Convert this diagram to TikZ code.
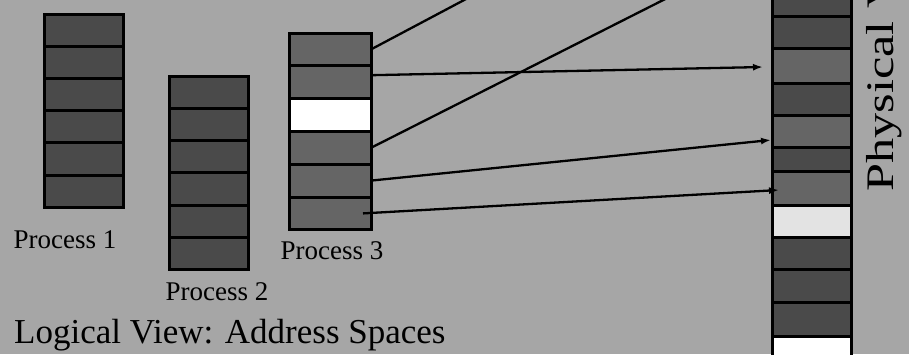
\documentclass[tikz,border=0pt]{standalone}
\usepackage{fontspec}
\setmainfont{Liberation Serif}
\usepackage{graphicx}
\usetikzlibrary{arrows.meta,calc}

\definecolor{bggray}{RGB}{166,166,166}
\definecolor{pagedark}{RGB}{74,74,74}
\definecolor{pagemid}{RGB}{101,101,101}
\definecolor{pagelight}{RGB}{227,227,227}

\tikzset{
    page/.style={draw=black, line width=3bp, anchor=north west, inner sep=0pt, outer sep=0pt},
    map/.style={line width=2.3bp, black},
    maparrow/.style={map, -{Latex[length=10bp,width=7bp]}},
    proc/.style={anchor=base, inner sep=0pt, font=\fontsize{27bp}{27bp}\selectfont}
}

\begin{document}
\begin{tikzpicture}[x=1bp, y=-1bp]
            \useasboundingbox (0,0) rectangle (909,354);
            \clip (0,0) rectangle (909,354);
            \fill[bggray] (0,0) rectangle (909,354);

            %Process 1
            \foreach \i in {0,...,5}
                \node[page, fill=pagedark, minimum width=79bp, minimum height=32.2bp] (pa\i) at (44,{14+32.2*\i}) {};
            \node[proc] (lp1) at (65,248) {Process 1};

            %Process 2
            \foreach \i in {0,...,5}
                \node[page, fill=pagedark, minimum width=79bp, minimum height=32.3bp] (pb\i) at (169,{76+32.3*\i}) {};
            \node[proc] (lp2) at (217,300) {Process 2};

            %Process 3, one page not mapped
            \foreach \i/\col in {0/pagemid,1/pagemid,2/white,3/pagemid,4/pagemid,5/pagemid}
                \node[page, fill=\col, minimum width=82bp, minimum height=32.8bp] (pc\i) at (289,{33+32.8*\i}) {};
            \node[proc] (lp3) at (332,259) {Process 3};

            \node[anchor=base west, inner sep=0pt, font=\fontsize{35bp}{35bp}\selectfont] (llog) at (14,343) {Logical View: Address Spaces};

            %physical frames
            \foreach \n/\top/\hgt/\col in {0/-20/36/pagedark, 1/16/32/pagedark, 2/48/35/pagemid, 3/83/32/pagedark,
                    4/115/32/pagemid, 5/147/24/pagedark, 6/171/34/pagemid, 7/205/32/pagelight,
                    8/237/32/pagedark, 9/269/33/pagedark, 10/302/34/pagedark, 11/336/40/white}
                \node[page, fill=\col, minimum width=79bp, minimum height=\hgt bp] (m\n) at (772,\top) {};
            \node[rotate=90, anchor=base west, inner sep=0pt, font=\fontsize{39bp}{39bp}\selectfont] (lphys) at (893,192) {\scalebox{1.29}[1]{Physical V}};

            %page table entries
            \coordinate (out1) at (483,-10);
            \coordinate (out2) at (683,-10);
            \draw[map] (pc0.east) -- (out1);
            \draw[map] (pc3.east) -- (out2);
            \draw[maparrow] ($(pc1.east)+(0,-7)$) -- ($(m2.west)+(-9,1.5)$);
            \draw[maparrow] (pc4.east) -- ($(m4.west)+(-1,9)$);
            \draw[maparrow] ($(pc5.east)+(-8,0)$) -- ($(m6.west)+(7,2)$);
\end{tikzpicture}
\end{document}
